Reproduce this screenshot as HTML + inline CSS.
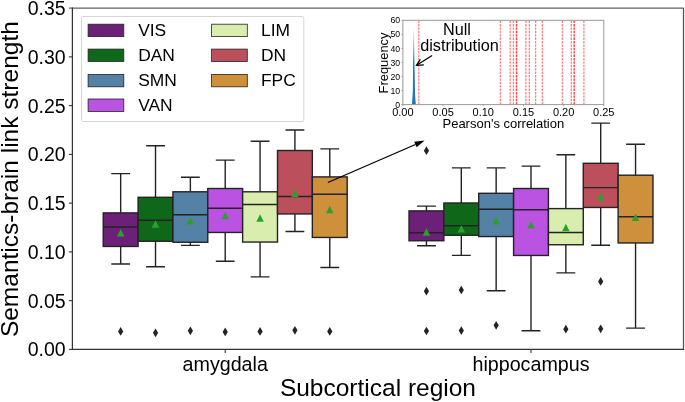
<!DOCTYPE html>
<html><head><meta charset="utf-8"><style>
html,body{margin:0;padding:0;background:#fff;}
body{width:685px;height:402px;overflow:hidden;position:relative;}
svg text{font-family:"Liberation Sans", sans-serif;fill:#000;}
svg{will-change:transform;}
</style></head><body>
<svg width="685" height="402" viewBox="0 0 685 402" style="position:absolute;left:0;top:0"><defs><linearGradient id="hg" x1="0" y1="0" x2="0" y2="1"><stop offset="0" stop-color="#1f77b4" stop-opacity="0.2"/><stop offset="0.25" stop-color="#1f77b4" stop-opacity="0.75"/><stop offset="0.45" stop-color="#1f77b4" stop-opacity="1"/><stop offset="1" stop-color="#1f77b4" stop-opacity="1"/></linearGradient></defs><path d="M120.67,212.90V173.60M120.67,246.45V264.00M111.96,173.60H129.38M111.96,264.00H129.38" fill="none" stroke="#232323" stroke-width="1.4" stroke-linecap="square"/><rect x="103.24" y="212.90" width="34.85" height="33.55" fill="#6d2078" stroke="#232323" stroke-width="1.4"/><line x1="103.24" y1="227.00" x2="138.09" y2="227.00" stroke="#232323" stroke-width="1.4"/><polygon points="120.67,228.95 116.92,236.45 124.42,236.45" fill="#2ca02c"/><polygon points="120.67,327.05 123.27,331.40 120.67,335.75 118.07,331.40" fill="#232323"/><path d="M426.45,210.90V206.10M426.45,240.75V245.70M417.74,206.10H435.16M417.74,245.70H435.16" fill="none" stroke="#232323" stroke-width="1.4" stroke-linecap="square"/><rect x="409.02" y="210.90" width="34.85" height="29.85" fill="#6d2078" stroke="#232323" stroke-width="1.4"/><line x1="409.02" y1="232.80" x2="443.88" y2="232.80" stroke="#232323" stroke-width="1.4"/><polygon points="426.45,228.35 422.70,235.85 430.20,235.85" fill="#2ca02c"/><polygon points="426.45,146.35 429.05,150.70 426.45,155.05 423.85,150.70" fill="#232323"/><polygon points="426.45,286.85 429.05,291.20 426.45,295.55 423.85,291.20" fill="#232323"/><polygon points="426.45,326.65 429.05,331.00 426.45,335.35 423.85,331.00" fill="#232323"/><path d="M155.52,197.30V145.70M155.52,241.25V266.70M146.81,145.70H164.23M146.81,266.70H164.23" fill="none" stroke="#232323" stroke-width="1.4" stroke-linecap="square"/><rect x="138.09" y="197.30" width="34.85" height="43.95" fill="#0f6719" stroke="#232323" stroke-width="1.4"/><line x1="138.09" y1="220.30" x2="172.94" y2="220.30" stroke="#232323" stroke-width="1.4"/><polygon points="155.52,220.35 151.77,227.85 159.27,227.85" fill="#2ca02c"/><polygon points="155.52,328.45 158.12,332.80 155.52,337.15 152.92,332.80" fill="#232323"/><path d="M461.30,203.00V167.90M461.30,235.25V255.40M452.59,167.90H470.01M452.59,255.40H470.01" fill="none" stroke="#232323" stroke-width="1.4" stroke-linecap="square"/><rect x="443.88" y="203.00" width="34.85" height="32.25" fill="#0f6719" stroke="#232323" stroke-width="1.4"/><line x1="443.88" y1="225.80" x2="478.73" y2="225.80" stroke="#232323" stroke-width="1.4"/><polygon points="461.30,225.05 457.55,232.55 465.05,232.55" fill="#2ca02c"/><polygon points="461.30,285.65 463.90,290.00 461.30,294.35 458.70,290.00" fill="#232323"/><polygon points="461.30,326.25 463.90,330.60 461.30,334.95 458.70,330.60" fill="#232323"/><path d="M190.37,191.80V177.20M190.37,242.25V245.40M181.66,177.20H199.08M181.66,245.40H199.08" fill="none" stroke="#232323" stroke-width="1.4" stroke-linecap="square"/><rect x="172.94" y="191.80" width="34.85" height="50.45" fill="#5481a6" stroke="#232323" stroke-width="1.4"/><line x1="172.94" y1="214.70" x2="207.79" y2="214.70" stroke="#232323" stroke-width="1.4"/><polygon points="190.37,217.05 186.62,224.55 194.12,224.55" fill="#2ca02c"/><polygon points="190.37,326.45 192.97,330.80 190.37,335.15 187.77,330.80" fill="#232323"/><path d="M496.15,193.30V167.90M496.15,236.55V290.80M487.44,167.90H504.86M487.44,290.80H504.86" fill="none" stroke="#232323" stroke-width="1.4" stroke-linecap="square"/><rect x="478.72" y="193.30" width="34.85" height="43.25" fill="#5481a6" stroke="#232323" stroke-width="1.4"/><line x1="478.72" y1="209.30" x2="513.57" y2="209.30" stroke="#232323" stroke-width="1.4"/><polygon points="496.15,216.95 492.40,224.45 499.90,224.45" fill="#2ca02c"/><polygon points="496.15,320.95 498.75,325.30 496.15,329.65 493.55,325.30" fill="#232323"/><path d="M225.22,188.50V160.10M225.22,232.45V261.20M216.51,160.10H233.93M216.51,261.20H233.93" fill="none" stroke="#232323" stroke-width="1.4" stroke-linecap="square"/><rect x="207.79" y="188.50" width="34.85" height="43.95" fill="#ba52e2" stroke="#232323" stroke-width="1.4"/><line x1="207.79" y1="208.20" x2="242.64" y2="208.20" stroke="#232323" stroke-width="1.4"/><polygon points="225.22,211.75 221.47,219.25 228.97,219.25" fill="#2ca02c"/><polygon points="225.22,327.55 227.82,331.90 225.22,336.25 222.62,331.90" fill="#232323"/><path d="M531.00,188.50V166.10M531.00,255.45V330.80M522.29,166.10H539.71M522.29,330.80H539.71" fill="none" stroke="#232323" stroke-width="1.4" stroke-linecap="square"/><rect x="513.58" y="188.50" width="34.85" height="66.95" fill="#ba52e2" stroke="#232323" stroke-width="1.4"/><line x1="513.58" y1="209.70" x2="548.43" y2="209.70" stroke="#232323" stroke-width="1.4"/><polygon points="531.00,221.05 527.25,228.55 534.75,228.55" fill="#2ca02c"/><path d="M260.07,191.80V141.20M260.07,242.05V276.90M251.36,141.20H268.78M251.36,276.90H268.78" fill="none" stroke="#232323" stroke-width="1.4" stroke-linecap="square"/><rect x="242.64" y="191.80" width="34.85" height="50.25" fill="#d9eeae" stroke="#232323" stroke-width="1.4"/><line x1="242.64" y1="204.50" x2="277.50" y2="204.50" stroke="#232323" stroke-width="1.4"/><polygon points="260.07,214.35 256.32,221.85 263.82,221.85" fill="#2ca02c"/><polygon points="260.07,327.05 262.67,331.40 260.07,335.75 257.47,331.40" fill="#232323"/><path d="M565.85,208.60V154.80M565.85,244.75V272.90M557.14,154.80H574.56M557.14,272.90H574.56" fill="none" stroke="#232323" stroke-width="1.4" stroke-linecap="square"/><rect x="548.43" y="208.60" width="34.85" height="36.15" fill="#d9eeae" stroke="#232323" stroke-width="1.4"/><line x1="548.43" y1="232.50" x2="583.28" y2="232.50" stroke="#232323" stroke-width="1.4"/><polygon points="565.85,223.65 562.10,231.15 569.60,231.15" fill="#2ca02c"/><polygon points="565.85,324.85 568.45,329.20 565.85,333.55 563.25,329.20" fill="#232323"/><path d="M294.92,150.50V130.00M294.92,213.95V231.50M286.21,130.00H303.63M286.21,231.50H303.63" fill="none" stroke="#232323" stroke-width="1.4" stroke-linecap="square"/><rect x="277.50" y="150.50" width="34.85" height="63.45" fill="#bb505c" stroke="#232323" stroke-width="1.4"/><line x1="277.50" y1="196.50" x2="312.35" y2="196.50" stroke="#232323" stroke-width="1.4"/><polygon points="294.92,189.45 291.17,196.95 298.67,196.95" fill="#2ca02c"/><polygon points="294.92,325.95 297.52,330.30 294.92,334.65 292.32,330.30" fill="#232323"/><path d="M600.70,163.30V123.10M600.70,207.45V245.20M591.99,123.10H609.41M591.99,245.20H609.41" fill="none" stroke="#232323" stroke-width="1.4" stroke-linecap="square"/><rect x="583.28" y="163.30" width="34.85" height="44.15" fill="#bb505c" stroke="#232323" stroke-width="1.4"/><line x1="583.28" y1="187.60" x2="618.13" y2="187.60" stroke="#232323" stroke-width="1.4"/><polygon points="600.70,193.35 596.95,200.85 604.45,200.85" fill="#2ca02c"/><polygon points="600.70,277.05 603.30,281.40 600.70,285.75 598.10,281.40" fill="#232323"/><polygon points="600.70,324.45 603.30,328.80 600.70,333.15 598.10,328.80" fill="#232323"/><path d="M329.77,176.90V148.90M329.77,237.45V267.50M321.06,148.90H338.48M321.06,267.50H338.48" fill="none" stroke="#232323" stroke-width="1.4" stroke-linecap="square"/><rect x="312.34" y="176.90" width="34.85" height="60.55" fill="#ce903b" stroke="#232323" stroke-width="1.4"/><line x1="312.34" y1="194.20" x2="347.19" y2="194.20" stroke="#232323" stroke-width="1.4"/><polygon points="329.77,205.85 326.02,213.35 333.52,213.35" fill="#2ca02c"/><polygon points="329.77,327.05 332.37,331.40 329.77,335.75 327.17,331.40" fill="#232323"/><path d="M635.55,175.20V144.30M635.55,242.95V328.10M626.84,144.30H644.26M626.84,328.10H644.26" fill="none" stroke="#232323" stroke-width="1.4" stroke-linecap="square"/><rect x="618.12" y="175.20" width="34.85" height="67.75" fill="#ce903b" stroke="#232323" stroke-width="1.4"/><line x1="618.12" y1="216.80" x2="652.98" y2="216.80" stroke="#232323" stroke-width="1.4"/><polygon points="635.55,213.45 631.80,220.95 639.30,220.95" fill="#2ca02c"/><line x1="68.90" y1="8.10" x2="683.50" y2="8.10" stroke="#444" stroke-opacity="0.85" stroke-width="1.3"/><line x1="683.50" y1="8.10" x2="683.50" y2="349.40" stroke="#555" stroke-width="1.25"/><line x1="72.40" y1="7.50" x2="72.40" y2="350.00" stroke="#333" stroke-width="1.25"/><line x1="72.40" y1="349.40" x2="684.10" y2="349.40" stroke="#333" stroke-width="1.25"/><line x1="68.90" y1="349.40" x2="72.40" y2="349.40" stroke="#333" stroke-width="1.1"/><text x="65.6" y="356.40" font-size="19.5" text-anchor="end" fill="#000">0.00</text><line x1="68.90" y1="300.64" x2="72.40" y2="300.64" stroke="#333" stroke-width="1.1"/><text x="65.6" y="307.64" font-size="19.5" text-anchor="end" fill="#000">0.05</text><line x1="68.90" y1="251.89" x2="72.40" y2="251.89" stroke="#333" stroke-width="1.1"/><text x="65.6" y="258.89" font-size="19.5" text-anchor="end" fill="#000">0.10</text><line x1="68.90" y1="203.13" x2="72.40" y2="203.13" stroke="#333" stroke-width="1.1"/><text x="65.6" y="210.13" font-size="19.5" text-anchor="end" fill="#000">0.15</text><line x1="68.90" y1="154.37" x2="72.40" y2="154.37" stroke="#333" stroke-width="1.1"/><text x="65.6" y="161.37" font-size="19.5" text-anchor="end" fill="#000">0.20</text><line x1="68.90" y1="105.61" x2="72.40" y2="105.61" stroke="#333" stroke-width="1.1"/><text x="65.6" y="112.61" font-size="19.5" text-anchor="end" fill="#000">0.25</text><line x1="68.90" y1="56.86" x2="72.40" y2="56.86" stroke="#333" stroke-width="1.1"/><text x="65.6" y="63.86" font-size="19.5" text-anchor="end" fill="#000">0.30</text><text x="65.6" y="15.10" font-size="19.5" text-anchor="end" fill="#000">0.35</text><line x1="225.22" y1="349.40" x2="225.22" y2="352.90" stroke="#333" stroke-width="1.1"/><text x="225.22" y="371" font-size="19.7" text-anchor="middle">amygdala</text><line x1="531.00" y1="349.40" x2="531.00" y2="352.90" stroke="#333" stroke-width="1.1"/><text x="531.00" y="371" font-size="19.7" text-anchor="middle">hippocampus</text><text x="377.95" y="396.2" font-size="24.5" text-anchor="middle">Subcortical region</text><text transform="translate(18.4,179.15) rotate(-90)" x="0" y="0" font-size="24.5" text-anchor="middle">Semantics-brain link strength</text><rect x="81.5" y="16.5" width="222.3" height="105" rx="1.2" fill="#fff" fill-opacity="0.8" stroke="#d6d6d6" stroke-width="1"/><rect x="88.10" y="24.20" width="35.7" height="12.4" fill="#6d2078" stroke="#232323" stroke-width="0.8"/><text x="138.20" y="35.85" font-size="17.4">VIS</text><rect x="88.10" y="49.10" width="35.7" height="12.4" fill="#0f6719" stroke="#232323" stroke-width="0.8"/><text x="138.20" y="60.75" font-size="17.4">DAN</text><rect x="88.10" y="74.40" width="35.7" height="12.4" fill="#5481a6" stroke="#232323" stroke-width="0.8"/><text x="138.20" y="86.05" font-size="17.4">SMN</text><rect x="88.10" y="99.00" width="35.7" height="12.4" fill="#ba52e2" stroke="#232323" stroke-width="0.8"/><text x="138.20" y="110.65" font-size="17.4">VAN</text><rect x="211.60" y="24.20" width="35.7" height="12.4" fill="#d9eeae" stroke="#232323" stroke-width="0.8"/><text x="261.00" y="35.85" font-size="17.4">LIM</text><rect x="211.60" y="49.10" width="35.7" height="12.4" fill="#bb505c" stroke="#232323" stroke-width="0.8"/><text x="261.00" y="60.75" font-size="17.4">DN</text><rect x="211.60" y="74.40" width="35.7" height="12.4" fill="#ce903b" stroke="#232323" stroke-width="0.8"/><text x="261.00" y="86.05" font-size="17.4">FPC</text><rect x="402.9" y="20.3" width="200.90" height="84.30" fill="#fff"/><polygon points="411.9,104.6 412.3,100 412.8,92 413.0,75 413.2,55 413.4,40 413.5,30 413.8,30 414.0,40 414.3,55 414.7,75 415.0,92 415.4,100 415.9,104.6" fill="url(#hg)"/><line x1="418.80" y1="104.6" x2="418.80" y2="20.3" stroke="#ff0000" stroke-opacity="0.5" stroke-width="1.3" stroke-dasharray="2.38,1.02"/><line x1="500.40" y1="104.6" x2="500.40" y2="20.3" stroke="#ff0000" stroke-opacity="0.5" stroke-width="1.3" stroke-dasharray="2.38,1.02"/><line x1="510.20" y1="104.6" x2="510.20" y2="20.3" stroke="#ff0000" stroke-opacity="0.5" stroke-width="1.3" stroke-dasharray="2.38,1.02"/><line x1="513.40" y1="104.6" x2="513.40" y2="20.3" stroke="#ff0000" stroke-opacity="0.5" stroke-width="1.3" stroke-dasharray="2.38,1.02"/><line x1="516.50" y1="104.6" x2="516.50" y2="20.3" stroke="#ff0000" stroke-opacity="0.5" stroke-width="1.3" stroke-dasharray="2.38,1.02"/><line x1="516.50" y1="104.6" x2="516.50" y2="20.3" stroke="#ff0000" stroke-opacity="0.5" stroke-width="1.3" stroke-dasharray="2.38,1.02"/><line x1="525.90" y1="104.6" x2="525.90" y2="20.3" stroke="#ff0000" stroke-opacity="0.5" stroke-width="1.3" stroke-dasharray="2.38,1.02"/><line x1="529.35" y1="104.6" x2="529.35" y2="20.3" stroke="#ff0000" stroke-opacity="0.5" stroke-width="1.3" stroke-dasharray="2.38,1.02"/><line x1="535.60" y1="104.6" x2="535.60" y2="20.3" stroke="#ff0000" stroke-opacity="0.5" stroke-width="1.3" stroke-dasharray="2.38,1.02"/><line x1="542.40" y1="104.6" x2="542.40" y2="20.3" stroke="#ff0000" stroke-opacity="0.5" stroke-width="1.3" stroke-dasharray="2.38,1.02"/><line x1="562.40" y1="104.6" x2="562.40" y2="20.3" stroke="#ff0000" stroke-opacity="0.5" stroke-width="1.3" stroke-dasharray="2.38,1.02"/><line x1="571.35" y1="104.6" x2="571.35" y2="20.3" stroke="#ff0000" stroke-opacity="0.5" stroke-width="1.3" stroke-dasharray="2.38,1.02"/><line x1="574.20" y1="104.6" x2="574.20" y2="20.3" stroke="#ff0000" stroke-opacity="0.5" stroke-width="1.3" stroke-dasharray="2.38,1.02"/><line x1="574.20" y1="104.6" x2="574.20" y2="20.3" stroke="#ff0000" stroke-opacity="0.5" stroke-width="1.3" stroke-dasharray="2.38,1.02"/><line x1="583.90" y1="104.6" x2="583.90" y2="20.3" stroke="#ff0000" stroke-opacity="0.5" stroke-width="1.3" stroke-dasharray="2.38,1.02"/><rect x="402.9" y="20.3" width="200.90" height="84.30" fill="none" stroke="#999" stroke-width="1"/><line x1="401.30" y1="104.60" x2="402.9" y2="104.60" stroke="#999" stroke-width="0.8"/><text x="400.2" y="107.70" font-size="8.7" text-anchor="end">0</text><line x1="401.30" y1="90.55" x2="402.9" y2="90.55" stroke="#999" stroke-width="0.8"/><text x="400.2" y="93.65" font-size="8.7" text-anchor="end">10</text><line x1="401.30" y1="76.50" x2="402.9" y2="76.50" stroke="#999" stroke-width="0.8"/><text x="400.2" y="79.60" font-size="8.7" text-anchor="end">20</text><line x1="401.30" y1="62.45" x2="402.9" y2="62.45" stroke="#999" stroke-width="0.8"/><text x="400.2" y="65.55" font-size="8.7" text-anchor="end">30</text><line x1="401.30" y1="48.40" x2="402.9" y2="48.40" stroke="#999" stroke-width="0.8"/><text x="400.2" y="51.50" font-size="8.7" text-anchor="end">40</text><line x1="401.30" y1="34.35" x2="402.9" y2="34.35" stroke="#999" stroke-width="0.8"/><text x="400.2" y="37.45" font-size="8.7" text-anchor="end">50</text><line x1="401.30" y1="20.30" x2="402.9" y2="20.30" stroke="#999" stroke-width="0.8"/><text x="400.2" y="23.40" font-size="8.7" text-anchor="end">60</text><line x1="402.90" y1="104.6" x2="402.90" y2="106.20" stroke="#999" stroke-width="0.8"/><text x="402.90" y="115.8" font-size="11" text-anchor="middle">0.00</text><line x1="443.08" y1="104.6" x2="443.08" y2="106.20" stroke="#999" stroke-width="0.8"/><text x="443.08" y="115.8" font-size="11" text-anchor="middle">0.05</text><line x1="483.26" y1="104.6" x2="483.26" y2="106.20" stroke="#999" stroke-width="0.8"/><text x="483.26" y="115.8" font-size="11" text-anchor="middle">0.10</text><line x1="523.44" y1="104.6" x2="523.44" y2="106.20" stroke="#999" stroke-width="0.8"/><text x="523.44" y="115.8" font-size="11" text-anchor="middle">0.15</text><line x1="563.62" y1="104.6" x2="563.62" y2="106.20" stroke="#999" stroke-width="0.8"/><text x="563.62" y="115.8" font-size="11" text-anchor="middle">0.20</text><line x1="603.80" y1="104.6" x2="603.80" y2="106.20" stroke="#999" stroke-width="0.8"/><text x="603.80" y="115.8" font-size="11" text-anchor="middle">0.25</text><text x="503.35" y="128.2" font-size="13" text-anchor="middle">Pearson's correlation</text><text transform="translate(388.0,63.0) rotate(-90)" font-size="12.9" text-anchor="middle">Frequency</text><text x="457" y="34.5" font-size="16.2" text-anchor="middle">Null</text><text x="459.5" y="51" font-size="16.3" text-anchor="middle">distribution</text><line x1="432.1" y1="55.5" x2="417.0" y2="65.0" stroke="#000" stroke-width="1.25"/><polyline points="420.3,59.3 416.5,65.3 423.8,64.9" fill="none" stroke="#000" stroke-width="1.25" stroke-linejoin="miter"/><line x1="327.9" y1="182.5" x2="415.43" y2="144.48" stroke="#000" stroke-width="1.3"/><polygon points="424.6,140.5 416.62,147.24 414.23,141.73" fill="#000"/></svg>
</body></html>
